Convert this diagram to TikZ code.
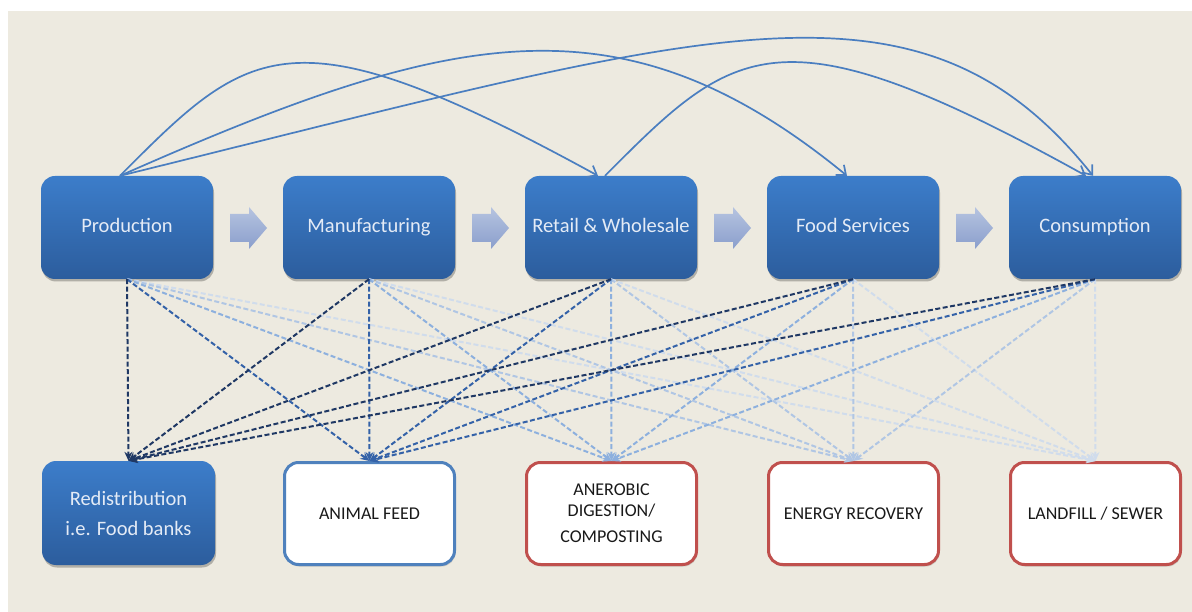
\documentclass[tikz,border=0pt]{standalone}
\usepackage{fontspec}
\setmainfont{Carlito}
\usetikzlibrary{arrows.meta,shadows}
\definecolor{bg}{RGB}{237,234,224}
\definecolor{boxtop}{RGB}{60,125,202}
\definecolor{boxbot}{RGB}{44,93,157}
\definecolor{labeltext}{RGB}{228,235,246}
\definecolor{curvecol}{RGB}{74,126,192}
\definecolor{cA}{RGB}{31,56,100}
\definecolor{cB}{RGB}{52,98,168}
\definecolor{cC}{RGB}{141,176,222}
\definecolor{cD}{RGB}{176,198,228}
\definecolor{cE}{RGB}{208,220,236}
\definecolor{bluebord}{RGB}{79,129,189}
\definecolor{redbord}{RGB}{192,80,77}
\definecolor{chevtop}{RGB}{182,196,224}
\definecolor{chevbot}{RGB}{138,158,204}
\begin{document}
\begin{tikzpicture}[x=1pt,y=-1pt,
  bluebox/.style={rounded corners=14pt, minimum width=172pt, minimum height=103pt,
    top color=boxtop, bottom color=boxbot, text=labeltext, align=center,
    font=\fontsize{20.5}{30}\selectfont,
    drop shadow={shadow xshift=1pt, shadow yshift=-2.5pt, opacity=0.25, fill=black}},
  topbox/.style={bluebox, text height=15pt, text depth=5pt},
  outbox/.style={rounded corners=14pt, minimum width=170pt, minimum height=102pt,
    fill=white, line width=3pt, align=center, text=black!90,
    font=\fontsize{18}{21}\selectfont,
    drop shadow={shadow xshift=1pt, shadow yshift=-2pt, opacity=0.15, fill=black}},
  curve/.style={draw=curvecol, line width=1.7pt, -{Straight Barb[length=8pt,width=13pt]}},
  dl/.style={line width=2pt, dash pattern=on 5pt off 2.5pt, -{Stealth[length=9pt,width=8pt]}},
  chev/.style={top color=chevtop, bottom color=chevbot, draw=none}
]
\useasboundingbox (0,0) rectangle (1192,612);
\fill[white] (0,0) rectangle (1192,612);
\fill[bg] (8,11) rectangle (1192,612);

% top row
\node[topbox] (P) at (127,227.5) {Production};
\node[topbox] (M) at (369,227.5) {Manufacturing};
\node[topbox] (R) at (611,227.5) {Retail \& Wholesale};
\node[topbox] (F) at (853,227.5) {Food Services};
\node[topbox] (C) at (1095,227.5) {Consumption};

% chevrons
\foreach \dx in {0,242,484,726}{
  \shade[chev, xshift=\dx pt] (230,214) -- (249,214) -- (249,207) -- (267,228)
    -- (249,249) -- (249,242) -- (230,242) -- cycle;
}

% bottom row
\node[bluebox, minimum width=173pt, minimum height=104pt] (D) at (128.5,513)
  {Redistribution\\i.e. Food banks};
\node[outbox, draw=bluebord] (A) at (369.5,513.5) {ANIMAL FEED};
\node[outbox, draw=redbord] (G) at (611.5,513.5) {ANEROBIC\\DIGESTION/\\[5pt]COMPOSTING};
\node[outbox, draw=redbord] (E) at (853.5,513.5) {ENERGY RECOVERY};
\node[outbox, draw=redbord] (L) at (1095.5,513.5) {LANDFILL / SEWER};

% dashed flows, lightest first
\foreach \s in {P,M,R,F,C} \draw[dl, cE] (\s.south) -- (L.north);
\foreach \s in {P,M,R,F,C} \draw[dl, cD] (\s.south) -- (E.north);
\foreach \s in {P,M,R,F,C} \draw[dl, cC] (\s.south) -- (G.north);
\foreach \s in {P,M,R,F,C} \draw[dl, cB] (\s.south) -- (A.north);
\foreach \s in {P,M,R,F,C} \draw[dl, cA] (\s.south) -- (D.north);

% curved arrows on top
\draw[curve] ([xshift=-7pt]P.north) .. controls (250,45) and (290,7) .. ([xshift=-13pt]R.north);
\draw[curve] ([xshift=-7pt]P.north) .. controls (450,30) and (620,-10) .. ([xshift=-6pt]F.north);
\draw[curve] ([xshift=-7pt]P.north) .. controls (709,31) and (918,-43) .. ([xshift=-2pt]C.north);
\draw[curve] ([xshift=-6pt]R.north) .. controls (735,45) and (778,5) .. ([xshift=-9pt]C.north);
\end{tikzpicture}
\end{document}
